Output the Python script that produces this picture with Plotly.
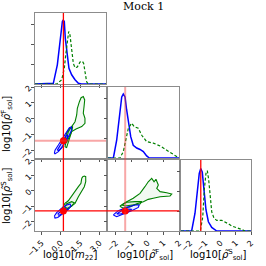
import plotly.graph_objects as go

# ---------------- data ----------------
m22_range = [-2.0, 3.5]
rhoF_range = [-2.5, 2.0]
rhoS_range = [-2.6, 2.0]
m22_ticks = [-1.5, 0.0, 1.5, 3.0]
m22_ticktext = ["−1.5", "0.0", "1.5", "3.0"]
rho_ticks = [-2, -1, 0, 1, 2]
rho_ticktext = ["−2", "−1", "0", "1", "2"]
truth_m22 = 0.2
truth_rhoF = -1.41
truth_rhoS = -1.3

# 1D marginals (normalised heights)
m22_blue_x = [-2.0, -0.8, -0.58, -0.27, -0.06, 0.12, 0.19, 0.27, 0.35, 0.48, 0.63, 0.84, 1.10, 1.36, 1.6, 3.5]
m22_blue_y = [0, 0, 0.01, 0.27, 0.64, 0.88, 0.90, 0.88, 0.64, 0.41, 0.22, 0.13, 0.06, 0.01, 0, 0]
m22_green_x = [-2.0, -0.32, 0.07, 0.27, 0.38, 0.50, 0.61, 0.71, 0.84, 0.97, 1.10, 1.28, 1.49, 1.67, 1.77, 1.87, 2.00, 2.13, 3.5]
m22_green_y = [0, 0, 0.06, 0.22, 0.41, 0.64, 0.74, 0.69, 0.46, 0.29, 0.23, 0.24, 0.31, 0.32, 0.29, 0.17, 0.03, 0, 0]

rf_blue_x = [-2.5, -2.16, -1.95, -1.78, -1.63, -1.53, -1.42, -1.32, -1.21, -1.06, -0.90, -0.68, -0.47, -0.26, -0.05, 0.12, 2.0]
rf_blue_y = [0, 0, 0.25, 0.63, 0.86, 0.90, 0.86, 0.68, 0.49, 0.30, 0.18, 0.14, 0.12, 0.09, 0.03, 0, 0]
rf_green_x = [-2.5, -1.74, -1.53, -1.36, -1.21, -1.0, -0.83, -0.58, -0.36, -0.05, 0.37, 0.80, 1.22, 1.54, 1.81, 2.0]
rf_green_y = [0, 0, 0.09, 0.28, 0.42, 0.49, 0.44, 0.42, 0.32, 0.23, 0.21, 0.17, 0.11, 0.06, 0.02, 0]

rs_blue_x = [-2.6, -1.90, -1.68, -1.53, -1.40, -1.30, -1.20, -1.09, -0.96, -0.80, -0.58, -0.25, 2.0]
rs_blue_y = [0, 0, 0.25, 0.58, 0.81, 0.88, 0.83, 0.58, 0.30, 0.13, 0.05, 0, 0]
rs_green_x = [-2.6, -1.33, -1.17, -1.07, -0.96, -0.87, -0.78, -0.69, -0.58, -0.43, -0.25, 0.08, 0.30, 0.52, 0.74, 1.07, 1.40, 1.61, 2.0]
rs_green_y = [0, 0, 0.20, 0.58, 0.81, 0.85, 0.72, 0.48, 0.27, 0.18, 0.15, 0.15, 0.13, 0.10, 0.07, 0.05, 0.02, 0, 0]

# 2D contours: m22 vs rhoF
g_out_21_x = [0.32, 0.45, 0.58, 0.84, 1.10, 1.23, 1.28, 1.44, 1.57, 1.74, 1.85, 1.80, 1.74, 1.87, 1.87, 1.62, 1.18, 0.84, 0.71, 0.58, 0.45, 0.32]
g_out_21_y = [-1.79, -1.25, -0.83, -0.51, -0.20, 0.23, 0.65, 1.07, 1.32, 1.39, 1.18, 0.76, 0.34, 0.02, -0.30, -0.51, -0.66, -0.83, -1.14, -1.57, -1.84, -1.79]
g_in_21_x = [0.32, 0.45, 0.71, 0.92, 0.84, 0.66, 0.45, 0.32]
g_in_21_y = [-1.36, -0.93, -0.58, -0.51, -0.83, -1.14, -1.52, -1.36]
b_out_21_x = [-0.50, -0.45, -0.19, 0.14, 0.45, 0.66, 0.82, 0.84, 0.66, 0.40, 0.14, -0.19, -0.45, -0.50]
b_out_21_y = [-2.20, -2.0, -1.68, -1.25, -0.83, -0.58, -0.54, -0.72, -1.04, -1.41, -1.79, -2.10, -2.24, -2.20]
b_in_21_x = [-0.27, -0.06, 0.19, 0.40, 0.53, 0.50, 0.32, 0.06, -0.17, -0.27]
b_in_21_y = [-2.0, -1.73, -1.36, -1.09, -1.04, -1.25, -1.50, -1.84, -2.03, -2.0]

# m22 vs rhoS
g_out_31_x = [1.62, 1.56, 1.36, 1.10, 0.84, 0.58, 0.32, 0.12, 0.19, 0.45, 0.71, 1.10, 1.36, 1.62, 1.82, 1.93, 1.93, 1.82, 1.70, 1.62]
g_out_31_y = [0.81, 0.49, 0.27, -0.05, -0.38, -0.64, -0.81, -1.13, -1.35, -1.24, -1.07, -0.81, -0.38, -0.05, 0.27, 0.60, 0.92, 0.96, 0.92, 0.81]
g_in_31_x = [0.27, 0.45, 0.84, 1.04, 0.84, 0.53, 0.27]
g_in_31_y = [-1.07, -0.83, -0.70, -0.77, -0.98, -1.13, -1.07]
b_out_31_x = [-0.50, -0.32, 0.07, 0.45, 0.71, 0.79, 0.53, 0.12, -0.24, -0.45, -0.50]
b_out_31_y = [-1.63, -1.41, -1.13, -0.92, -0.85, -0.98, -1.24, -1.50, -1.72, -1.76, -1.63]
b_in_31_x = [-0.24, 0.07, 0.38, 0.48, 0.19, -0.14, -0.24]
b_in_31_y = [-1.50, -1.28, -1.13, -1.20, -1.41, -1.59, -1.50]

# rhoF vs rhoS
g_out_32_x = [-1.75, -1.40, -0.90, -0.47, -0.16, 0.05, 0.27, 0.42, 0.54, 0.69, 0.59, 0.80, 1.22, 1.54, 1.43, 0.80, 0.37, 0.05, -0.26, -0.68, -1.11, -1.53, -1.75]
g_out_32_y = [-1.0, -0.75, -0.48, -0.16, 0.27, 0.59, 0.81, 0.59, 0.75, 0.38, 0.16, -0.05, -0.12, -0.20, -0.33, -0.38, -0.48, -0.55, -0.70, -0.84, -1.05, -1.12, -1.0]
g_in_32_x = [-1.63, -1.32, -0.79, -0.36, -0.47, -1.0, -1.42, -1.63]
g_in_32_y = [-0.92, -0.74, -0.70, -0.70, -0.85, -0.92, -0.98, -0.92]
b_out_32_x = [-2.16, -1.85, -1.32, -0.79, -0.52, -0.58, -1.0, -1.53, -1.95, -2.16]
b_out_32_y = [-1.56, -1.28, -1.07, -0.92, -0.92, -1.07, -1.28, -1.50, -1.67, -1.56]
b_in_32_x = [-1.95, -1.63, -1.21, -1.0, -1.21, -1.70, -1.95]
b_in_32_y = [-1.50, -1.28, -1.18, -1.20, -1.35, -1.50, -1.50]

# ---------------- figure ----------------
W = H = 266
def px_x(a, b):
    return [a / W, b / W]
def px_y(a, b):
    return [1 - b / H, 1 - a / H]

cols = [px_x(35, 106), px_x(108, 179), px_x(181, 251)]
rows = [px_y(13, 84), px_y(87, 158), px_y(160, 231)]

BLUE = "blue"
GREEN = "green"
RED = "red"
PINK = "rgba(240,60,60,0.45)"
DASH = "3px,2px"

fig = go.Figure()

def line(x, y, ax, color, dash="solid", width=1.3):
    fig.add_trace(go.Scatter(x=x, y=y, xaxis="x" + ax, yaxis="y" + ax, mode="lines",
                             line=dict(color=color, width=width, dash=dash),
                             hoverinfo="skip", showlegend=False))

def contour(x, y, ax, color, fill):
    fig.add_trace(go.Scatter(x=x, y=y, xaxis="x" + ax, yaxis="y" + ax, mode="lines",
                             fill="toself", fillcolor=fill,
                             line=dict(color=color, width=1.1),
                             hoverinfo="skip", showlegend=False))

# diagonals
line(m22_blue_x, m22_blue_y, "", BLUE, width=1.5)
line(m22_green_x, m22_green_y, "", GREEN, dash=DASH, width=1.2)
line(rf_blue_x, rf_blue_y, "3", BLUE, width=1.5)
line(rf_green_x, rf_green_y, "3", GREEN, dash=DASH, width=1.2)
line(rs_blue_x, rs_blue_y, "6", BLUE, width=1.5)
line(rs_green_x, rs_green_y, "6", GREEN, dash=DASH, width=1.2)

# 2D contours
gf_o, gf_i = "rgba(0,128,0,0.05)", "rgba(0,128,0,0.08)"
bf_o, bf_i = "rgba(0,0,255,0.07)", "rgba(0,0,255,0.12)"
for ax, go_, gi, bo, bi in [
    ("2", (g_out_21_x, g_out_21_y), (g_in_21_x, g_in_21_y), (b_out_21_x, b_out_21_y), (b_in_21_x, b_in_21_y)),
    ("4", (g_out_31_x, g_out_31_y), (g_in_31_x, g_in_31_y), (b_out_31_x, b_out_31_y), (b_in_31_x, b_in_31_y)),
    ("5", (g_out_32_x, g_out_32_y), (g_in_32_x, g_in_32_y), (b_out_32_x, b_out_32_y), (b_in_32_x, b_in_32_y)),
]:
    contour(*go_, ax, GREEN, gf_o)
    contour(*gi, ax, GREEN, gf_i)
    contour(*bo, ax, BLUE, bf_o)
    contour(*bi, ax, BLUE, bf_i)

# truth dots
for ax, tx, ty in [("2", truth_m22, truth_rhoF), ("4", truth_m22, truth_rhoS), ("5", truth_rhoF, truth_rhoS)]:
    fig.add_trace(go.Scatter(x=[tx], y=[ty], xaxis="x" + ax, yaxis="y" + ax, mode="markers",
                             marker=dict(color=RED, size=7), hoverinfo="skip", showlegend=False))

shapes = []
shapes.append(dict(type="line", xref="x", yref="paper", x0=truth_m22, x1=truth_m22,
                   y0=rows[2][0], y1=rows[0][1], line=dict(color=RED, width=1.3)))
shapes.append(dict(type="line", xref="x3", yref="paper", x0=truth_rhoF, x1=truth_rhoF,
                   y0=rows[2][0], y1=rows[1][1], line=dict(color=PINK, width=2)))
shapes.append(dict(type="line", xref="x6", yref="paper", x0=truth_rhoS, x1=truth_rhoS,
                   y0=rows[2][0], y1=rows[2][1], line=dict(color=RED, width=1.3)))
shapes.append(dict(type="line", xref="paper", yref="y2", x0=cols[0][0], x1=cols[0][1],
                   y0=truth_rhoF, y1=truth_rhoF, line=dict(color=PINK, width=2)))
shapes.append(dict(type="line", xref="paper", yref="y4", x0=cols[0][0], x1=cols[1][1],
                   y0=truth_rhoS, y1=truth_rhoS, line=dict(color=RED, width=1.3)))

tickfont = dict(family="DejaVu Sans", size=8, color="black")
common = dict(showline=True, mirror=True, linecolor="#8c8c8c", linewidth=1.2,
              showgrid=False, zeroline=False, ticks="outside", ticklen=3,
              tickcolor="#555", tickfont=tickfont, tickangle=-45, fixedrange=True,
              automargin=False)

def axis(dom, rng, vals, text, labels, anchor):
    d = dict(domain=dom, range=rng, tickvals=vals, showticklabels=labels, anchor=anchor, **common)
    if text is not None:
        d["ticktext"] = text
    return d

diag_ticks = [0.28, 0.56, 0.84]
fig.update_layout(
    width=W, height=H, margin=dict(l=0, r=0, t=0, b=0, pad=0, autoexpand=False),
    paper_bgcolor="white", plot_bgcolor="white", showlegend=False,
    xaxis=axis(cols[0], m22_range, m22_ticks, m22_ticktext, False, "y"),
    yaxis=axis(rows[0], [0, 1], diag_ticks, None, False, "x"),
    xaxis2=axis(cols[0], m22_range, m22_ticks, m22_ticktext, False, "y2"),
    yaxis2=axis(rows[1], rhoF_range, rho_ticks, rho_ticktext, True, "x2"),
    xaxis3=axis(cols[1], rhoF_range, rho_ticks, rho_ticktext, False, "y3"),
    yaxis3=axis(rows[1], [0, 1], diag_ticks, None, False, "x3"),
    xaxis4=axis(cols[0], m22_range, m22_ticks, m22_ticktext, True, "y4"),
    yaxis4=axis(rows[2], rhoS_range, rho_ticks, rho_ticktext, True, "x4"),
    xaxis5=axis(cols[1], rhoF_range, rho_ticks, rho_ticktext, True, "y5"),
    yaxis5=axis(rows[2], rhoS_range, rho_ticks, rho_ticktext, False, "x5"),
    xaxis6=axis(cols[2], rhoS_range, rho_ticks, rho_ticktext, True, "y6"),
    yaxis6=axis(rows[2], [0, 1], diag_ticks, None, False, "x6"),
    shapes=shapes,
)

labfont = dict(family="DejaVu Sans", size=10, color="black")
annots = [
    dict(text="Mock 1", x=143 / W, y=1 - 7 / H,
         font=dict(family="DejaVu Serif", size=11, color="black")),
    dict(text="log10[<i>m</i><sub>22</sub>]", x=70 / W, y=1 - 255 / H),
    dict(text="log10[<i>ρ̃</i><sup>F</sup><sub>sol</sub>]", x=145 / W, y=1 - 255 / H),
    dict(text="log10[<i>ρ̃</i><sup>S</sup><sub>sol</sub>]", x=218 / W, y=1 - 255 / H),
    dict(text="log10[<i>ρ̃</i><sup>F</sup><sub>sol</sub>]", x=7 / W, y=1 - 124 / H, textangle=-90),
    dict(text="log10[<i>ρ̃</i><sup>S</sup><sub>sol</sub>]", x=7 / W, y=1 - 196 / H, textangle=-90),
]
for a in annots:
    a["xref"] = "paper"
    a["yref"] = "paper"
    a["showarrow"] = False
    a.setdefault("font", labfont)
    a["xanchor"] = "center"
    a["yanchor"] = "middle"
fig.update_layout(annotations=annots)

fig.write_html("out.html", config={"displayModeBar": False, "staticPlot": True},
               post_script="document.body.style.margin='0';document.body.style.overflow='hidden';"
                           "document.documentElement.style.overflow='hidden';")
